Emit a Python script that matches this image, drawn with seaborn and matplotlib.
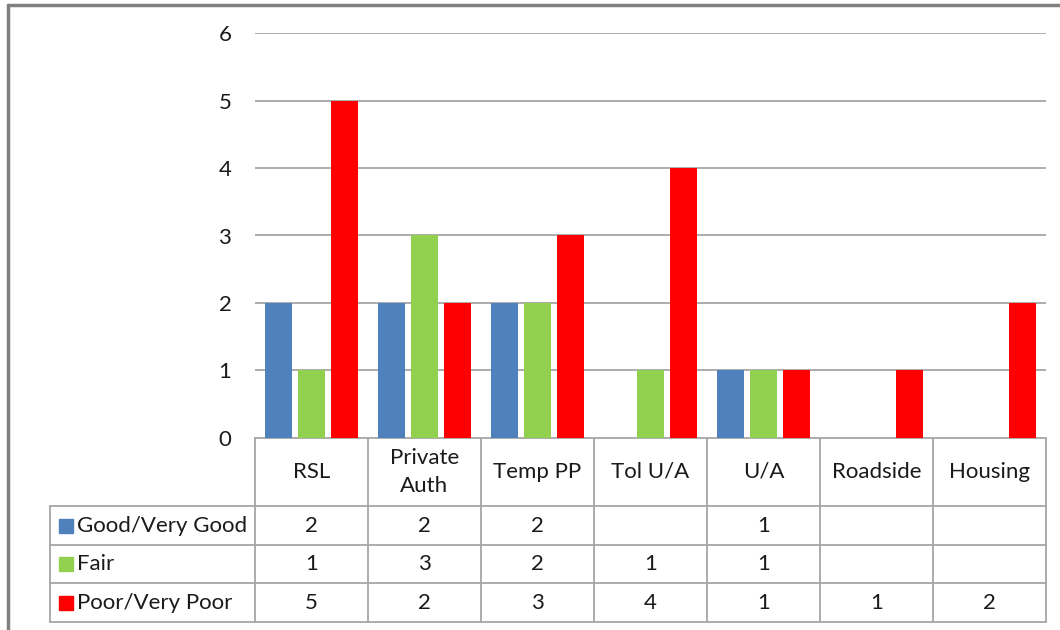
import numpy as np
import pandas as pd
import matplotlib
matplotlib.use('Agg')
import matplotlib.pyplot as plt
import seaborn as sns
from matplotlib.lines import Line2D
from matplotlib.patches import Rectangle

# data
site_types = ['RSL', 'Private\nAuth', 'Temp PP', 'Tol U/A', 'U/A', 'Roadside', 'Housing']
ratings = ['Good/Very Good', 'Fair', 'Poor/Very Poor']
good = [2, 2, 2, np.nan, 1, np.nan, np.nan]
fair = [1, 3, 2, 1, 1, np.nan, np.nan]
poor = [5, 2, 3, 4, 1, 1, 2]
colors = ['#4F81BD', '#92D050', '#FF0000']
yticks = [0, 1, 2, 3, 4, 5, 6]

sns.set_theme(style='white')
plt.rcParams['font.family'] = ['Lato', 'DejaVu Sans']

df = pd.DataFrame({
    'type': site_types * 3,
    'rating': [r for r in ratings for _ in site_types],
    'count': good + fair + poor,
})

W, H = 1060, 630
FS = 16
TXT = '#1a1a1a'
LINE = '#A6A6A6'


def rect(x0, y0, x1, y1):
    return [x0 / W, 1 - y1 / H, (x1 - x0) / W, (y1 - y0) / H]


fig = plt.figure(figsize=(W / 100, H / 100), dpi=100)

plot_l, plot_r, plot_t, plot_b = 255, 1046, 33.3, 437.7
ax = fig.add_axes(rect(plot_l, plot_t, plot_r, plot_b))
sns.barplot(data=df, x='type', y='count', hue='rating', order=site_types,
            hue_order=ratings, palette=colors, saturation=1, errorbar=None,
            width=0.876, gap=0.21, legend=False, linewidth=0, ax=ax)
ax.set_xlim(-0.5, len(site_types) - 0.5)
ax.set_ylim(0, 6)
ax.set_yticks(yticks)
ax.set_yticklabels([str(t) for t in yticks], fontsize=FS, color=TXT)
ax.set_xticks([])
ax.set_xlabel('')
ax.set_ylabel('')
ax.tick_params(axis='y', length=0, pad=17)
ax.yaxis.grid(True, color=LINE, lw=1.3)
ax.set_axisbelow(True)
for s in ax.spines.values():
    s.set_visible(False)

# data table under the plot
tax = fig.add_axes([0, 0, 1, 1])
tax.set_xlim(0, W)
tax.set_ylim(H, 0)
tax.axis('off')
tax.set_zorder(-1)

n = len(site_types)
cw = (plot_r - plot_l) / n
col_x = [plot_l + i * cw for i in range(n + 1)]
row_y = [506, 545, 583.3, 622]
leg_l = 50

tax.plot([plot_l, plot_r], [plot_b, plot_b], color=LINE, lw=1.3)
for y in row_y:
    tax.plot([leg_l, plot_r], [y, y], color=LINE, lw=1.3)
tax.plot([leg_l, leg_l], [row_y[0], row_y[-1]], color=LINE, lw=1.3)
for x in col_x:
    tax.plot([x, x], [plot_b, row_y[-1]], color=LINE, lw=1.3)

for i, name in enumerate(site_types):
    cx = col_x[i] + cw / 2
    tax.text(cx, (plot_b + row_y[0]) / 2, name, ha='center', va='center',
             fontsize=FS, color=TXT, linespacing=1.5)

series = [good, fair, poor]
for r, (label, vals, c) in enumerate(zip(ratings, series, colors)):
    cy = (row_y[r] + row_y[r + 1]) / 2
    tax.add_patch(Rectangle((59, cy - 7), 14, 14, color=c))
    tax.text(77, cy, label, ha='left', va='center', fontsize=FS, color=TXT)
    for i, v in enumerate(vals):
        if not np.isnan(v):
            tax.text(col_x[i] + cw / 2, cy, f'{int(v)}', ha='center',
                     va='center', fontsize=FS, color=TXT)

# chart frame (cropped at right/bottom)
fig.add_artist(Line2D([8 / W, 1], [1 - 5 / H, 1 - 5 / H],
                      transform=fig.transFigure, color='#808080', lw=2.5))
fig.add_artist(Line2D([8 / W, 8 / W], [0, 1 - 5 / H],
                      transform=fig.transFigure, color='#808080', lw=2.5))

fig.savefig('out.png', dpi=100)
